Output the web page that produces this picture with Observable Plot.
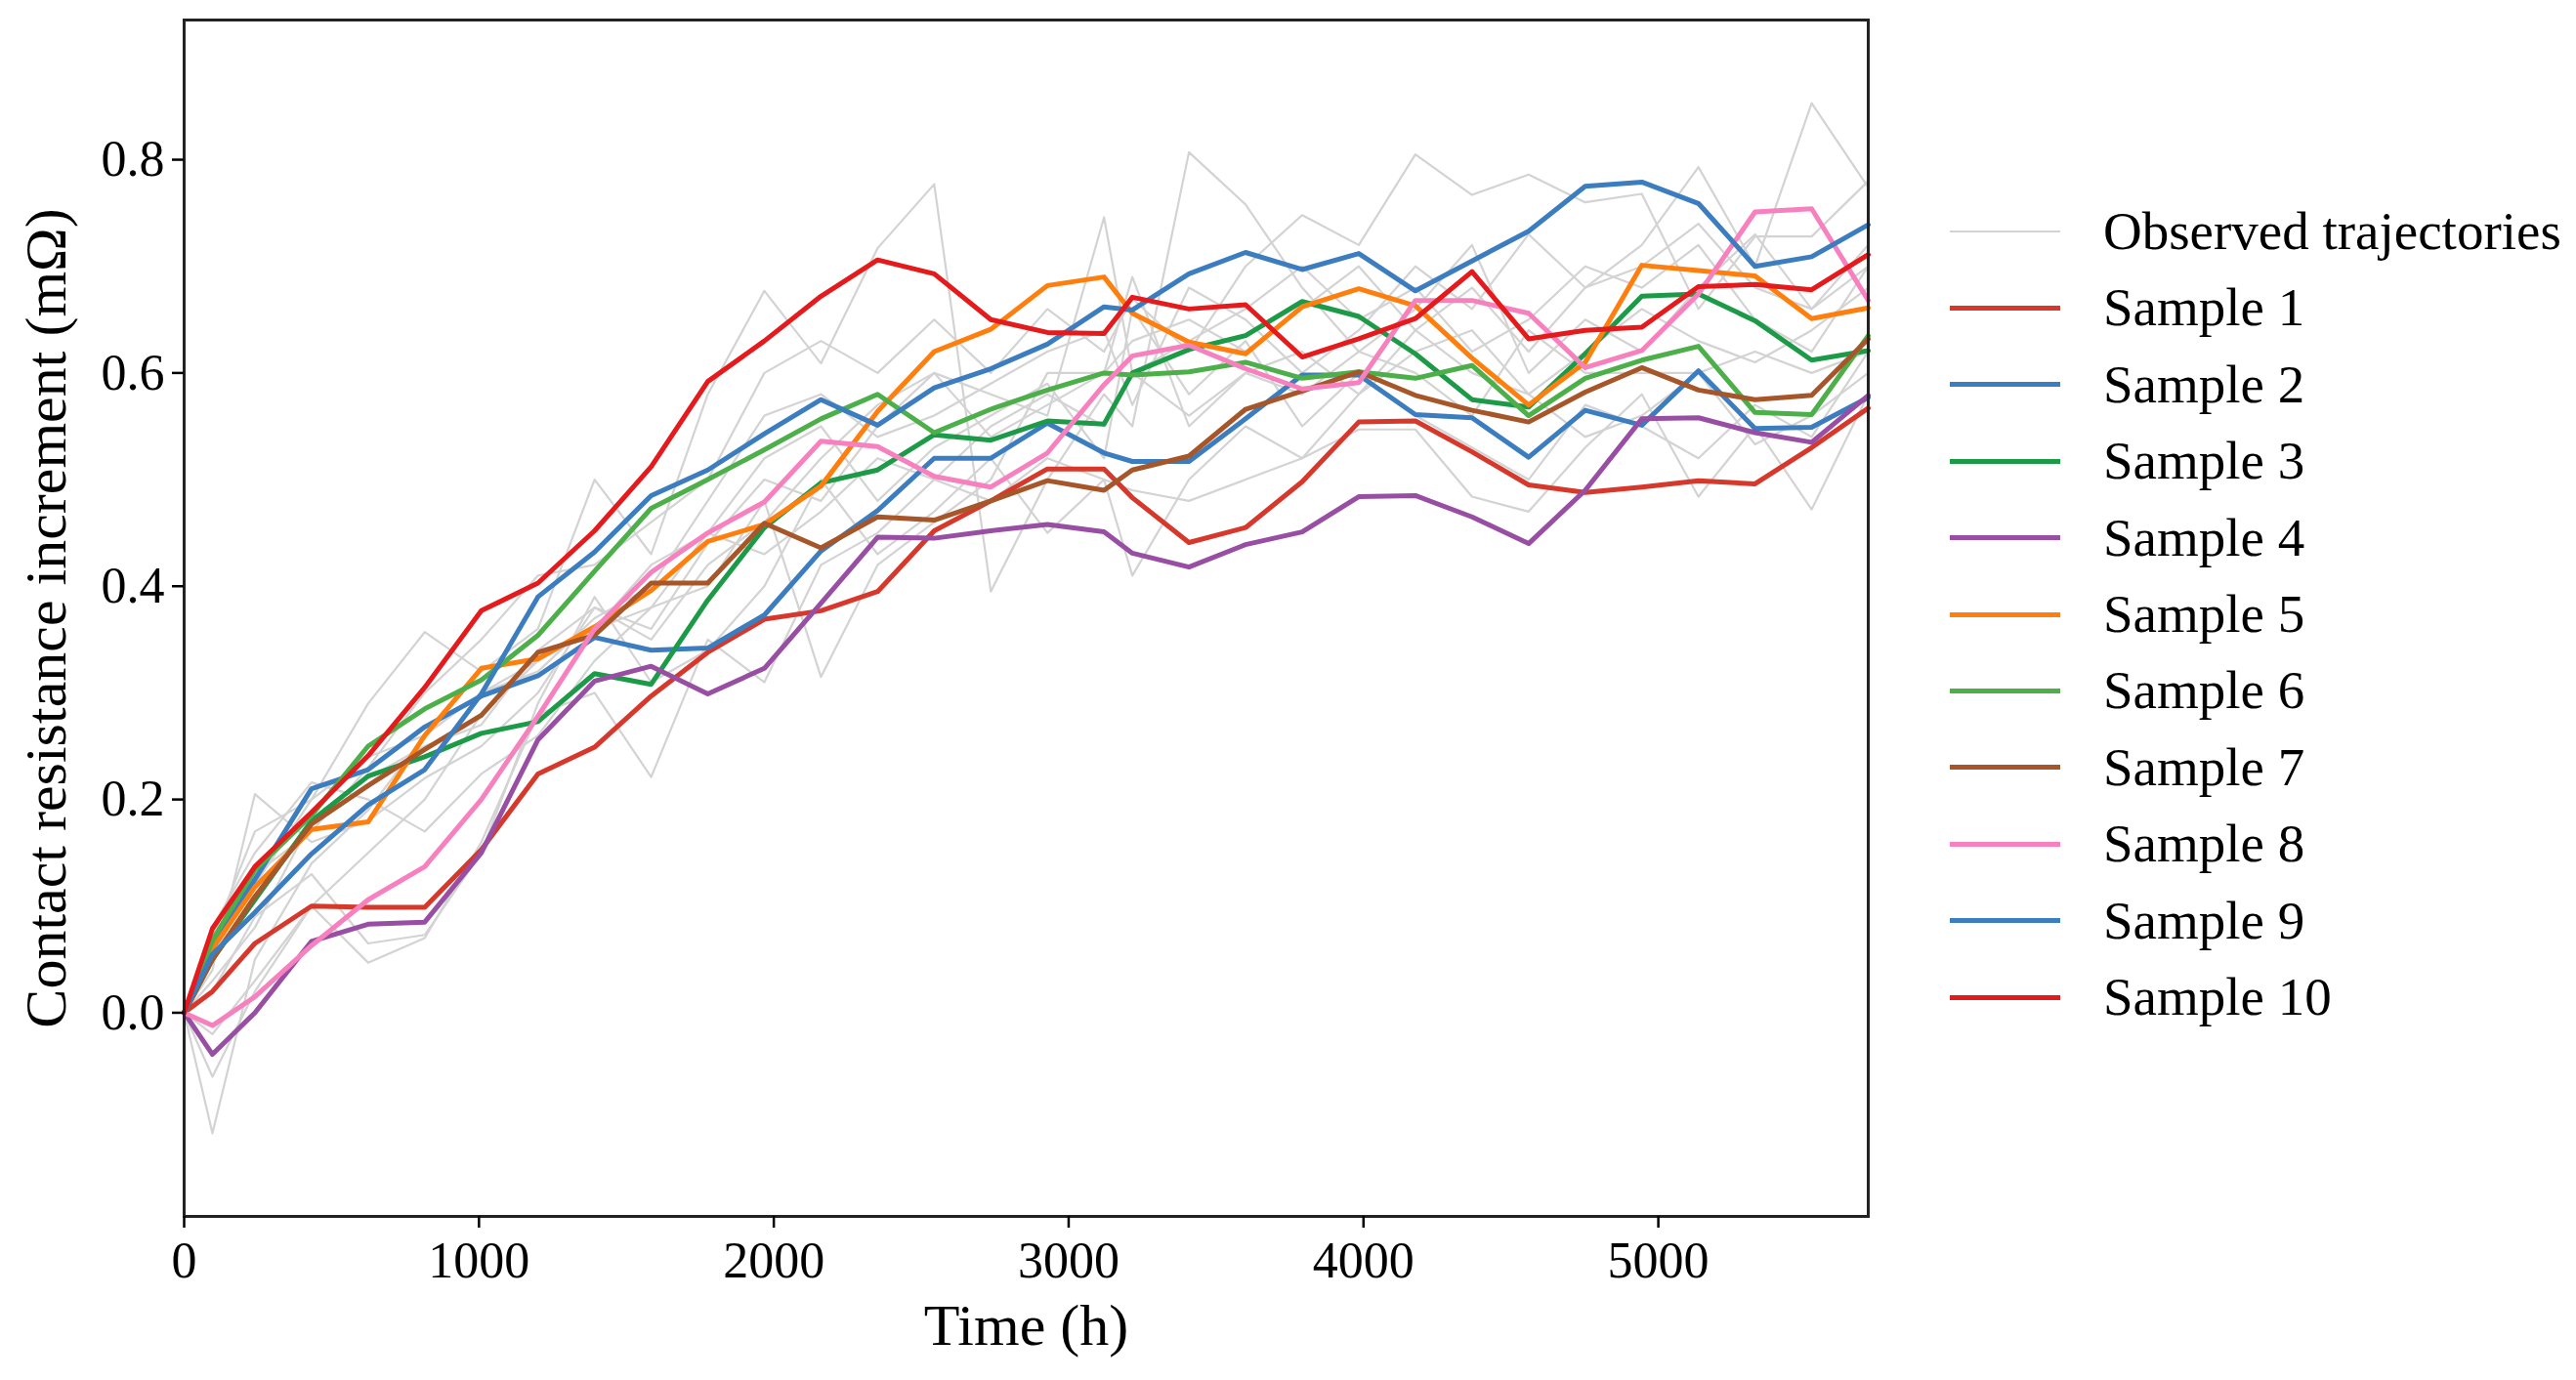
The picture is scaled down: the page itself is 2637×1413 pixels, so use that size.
<!DOCTYPE html>
<html><head><meta charset="utf-8">
<script src="https://cdn.jsdelivr.net/npm/d3@7"></script>
<script src="https://cdn.jsdelivr.net/npm/@observablehq/plot@0.6"></script>
<style>
html,body{margin:0;padding:0;background:#fff;}
#wrap{position:relative;width:2637px;height:1413px;font-family:"Liberation Serif","Times New Roman",serif;overflow:hidden;}
#chart{position:absolute;left:0;top:0;}
.row{position:absolute;left:1996px;display:flex;align-items:center;height:70px;}
.sw{width:113px;}
.lab{margin-left:44px;font-size:55px;color:#000;white-space:nowrap;line-height:70px;}
</style></head><body><div id="wrap"><div id="chart"></div><div id="legend"></div></div>
<script>
const times = [0,96,240,432,624,816,1008,1200,1392,1584,1776,1968,2160,2352,2544,2736,2928,3120,3216,3408,3600,3792,3984,4176,4368,4560,4752,4944,5136,5328,5520,5712];

const sample1 = [0,0.02,0.065,0.10,0.099,0.099,0.153,0.224,0.249,0.297,0.338,0.369,0.377,0.395,0.452,0.48,0.51,0.51,0.483,0.441,0.455,0.498,0.554,0.555,0.526,0.495,0.488,0.493,0.499,0.496,0.53,0.567];
const sample2 = [0,0.065,0.125,0.21,0.228,0.268,0.297,0.316,0.352,0.34,0.342,0.373,0.433,0.471,0.52,0.52,0.553,0.525,0.517,0.517,0.557,0.598,0.598,0.561,0.558,0.521,0.565,0.551,0.602,0.548,0.549,0.577];
const sample3 = [0,0.05,0.106,0.18,0.222,0.24,0.262,0.273,0.318,0.308,0.387,0.455,0.497,0.509,0.542,0.537,0.555,0.552,0.6,0.622,0.635,0.667,0.653,0.618,0.575,0.568,0.618,0.672,0.674,0.649,0.612,0.621];
const sample4 = [0,-0.039,0.0,0.067,0.083,0.085,0.15,0.256,0.311,0.325,0.299,0.323,0.384,0.446,0.445,0.452,0.458,0.451,0.431,0.418,0.439,0.451,0.484,0.485,0.465,0.44,0.49,0.557,0.558,0.544,0.535,0.579];
const sample5 = [0,0.06,0.118,0.172,0.179,0.26,0.323,0.332,0.362,0.396,0.442,0.458,0.494,0.564,0.62,0.641,0.682,0.69,0.656,0.629,0.618,0.662,0.679,0.663,0.614,0.57,0.61,0.701,0.696,0.691,0.651,0.661];
const sample6 = [0,0.068,0.134,0.185,0.25,0.285,0.312,0.354,0.414,0.473,0.5,0.528,0.557,0.58,0.544,0.566,0.584,0.6,0.598,0.601,0.61,0.595,0.601,0.595,0.607,0.56,0.595,0.612,0.625,0.563,0.561,0.635];
const sample7 = [0,0.05,0.109,0.177,0.213,0.247,0.279,0.338,0.354,0.403,0.403,0.459,0.436,0.465,0.462,0.48,0.499,0.49,0.509,0.522,0.566,0.583,0.601,0.579,0.565,0.554,0.582,0.605,0.584,0.575,0.579,0.632];
const sample8 = [0,-0.012,0.015,0.063,0.106,0.137,0.2,0.278,0.36,0.413,0.45,0.479,0.536,0.531,0.503,0.493,0.525,0.589,0.616,0.626,0.604,0.585,0.591,0.668,0.668,0.656,0.605,0.621,0.674,0.751,0.754,0.668];
const sample9 = [0,0.055,0.094,0.149,0.195,0.228,0.299,0.39,0.432,0.485,0.509,0.543,0.575,0.551,0.586,0.604,0.627,0.662,0.659,0.693,0.713,0.697,0.712,0.677,0.705,0.733,0.775,0.779,0.759,0.7,0.709,0.739];
const sample10 = [0,0.079,0.137,0.188,0.241,0.305,0.377,0.403,0.452,0.512,0.592,0.63,0.672,0.706,0.693,0.65,0.638,0.637,0.671,0.66,0.664,0.615,0.632,0.651,0.695,0.632,0.64,0.643,0.681,0.683,0.678,0.711];

const observed1 = [0,-0.113,0.05,0.14,0.19,0.26,0.3,0.33,0.36,0.42,0.45,0.43,0.47,0.52,0.5,0.55,0.58,0.55,0.6,0.56,0.6,0.62,0.58,0.64,0.6,0.58,0.62,0.66,0.63,0.61,0.64,0.68];
const observed2 = [0,0.04,0.205,0.16,0.18,0.22,0.25,0.3,0.38,0.36,0.44,0.5,0.48,0.55,0.6,0.58,0.56,0.746,0.6,0.63,0.66,0.7,0.65,0.68,0.62,0.65,0.7,0.68,0.72,0.65,0.62,0.7];
const observed3 = [0,0.06,0.12,0.2,0.29,0.357,0.32,0.36,0.5,0.43,0.58,0.677,0.609,0.717,0.777,0.395,0.5,0.58,0.55,0.807,0.758,0.68,0.62,0.66,0.72,0.6,0.65,0.62,0.68,0.73,0.66,0.7];
const observed4 = [0,-0.06,0.02,0.1,0.047,0.07,0.16,0.28,0.3,0.221,0.35,0.31,0.42,0.45,0.5,0.48,0.52,0.5,0.41,0.5,0.55,0.52,0.547,0.547,0.484,0.47,0.53,0.58,0.484,0.55,0.472,0.58];
const observed5 = [0,0.08,0.15,0.216,0.2,0.17,0.224,0.26,0.33,0.38,0.4,0.48,0.315,0.42,0.46,0.5,0.6,0.6,0.69,0.55,0.6,0.58,0.62,0.6,0.56,0.64,0.6,0.6,0.6,0.62,0.6,0.62];
const observed6 = [0,0.02,0.09,0.13,0.065,0.073,0.15,0.29,0.39,0.31,0.34,0.4,0.5,0.43,0.47,0.52,0.45,0.5,0.49,0.48,0.5,0.52,0.58,0.62,0.64,0.58,0.54,0.56,0.6,0.533,0.56,0.6];
const observed7 = [0,0.05,0.13,0.17,0.23,0.3,0.35,0.41,0.42,0.46,0.5,0.6,0.63,0.6,0.65,0.6,0.66,0.62,0.67,0.62,0.7,0.748,0.72,0.805,0.767,0.786,0.76,0.768,0.66,0.728,0.728,0.78];
const observed8 = [0,0.07,0.17,0.2,0.24,0.26,0.3,0.32,0.37,0.4,0.48,0.56,0.58,0.54,0.56,0.59,0.62,0.64,0.57,0.68,0.65,0.6,0.64,0.7,0.66,0.73,0.68,0.72,0.793,0.7,0.853,0.774];
const observed9 = [0,-0.02,0.03,0.1,0.15,0.2,0.28,0.33,0.36,0.38,0.45,0.52,0.55,0.48,0.53,0.56,0.59,0.52,0.66,0.58,0.63,0.55,0.6,0.56,0.53,0.5,0.57,0.55,0.52,0.57,0.54,0.62];
const observed10 = [0,0.03,0.08,0.18,0.22,0.25,0.27,0.34,0.38,0.35,0.42,0.46,0.52,0.57,0.6,0.54,0.57,0.6,0.63,0.65,0.62,0.66,0.7,0.64,0.68,0.62,0.68,0.7,0.74,0.68,0.66,0.72];

const sampleLabels = ["Sample 1","Sample 2","Sample 3","Sample 4","Sample 5","Sample 6","Sample 7","Sample 8","Sample 9","Sample 10"];
const sampleColors = ["#d6392b","#3b7dbf","#1d9a48","#984ea3","#ff7f0e","#4daf4a","#a65628","#f781bf","#3b7dbf","#e41a1c"];
const observedLabel = "Observed trajectories";
const observedColor = "#d3d3d3";
const xTicks = [0,1000,2000,3000,4000,5000];
const yTicks = [0,0.2,0.4,0.6,0.8];
const xTitle = "Time (h)";
const yTitle = "Contact resistance increment (mΩ)";

const samples = [sample1,sample2,sample3,sample4,sample5,sample6,sample7,sample8,sample9,sample10];
const observed = [observed1,observed2,observed3,observed4,observed5,observed6,observed7,observed8,observed9,observed10];

const obsRows = [];
observed.forEach((arr,k)=>arr.forEach((v,i)=>obsRows.push({s:"o"+k,t:times[i],v})));

const font = "Liberation Serif, Times New Roman, serif";
const marks = [
  Plot.line(obsRows,{x:"t",y:"v",z:"s",stroke:observedColor,strokeWidth:2.2})
];
samples.forEach((arr,k)=>{
  marks.push(Plot.line(arr.map((v,i)=>({t:times[i],v})),{x:"t",y:"v",stroke:sampleColors[k],strokeWidth:5}));
});
marks.push(Plot.frame({stroke:"#222",strokeWidth:3}));
marks.push(Plot.axisX({ticks:xTicks,tickSize:12,tickPadding:14,strokeWidth:2.5,tickFormat:d=>String(d),fontSize:52,label:null}));
marks.push(Plot.axisY({ticks:yTicks,tickSize:12,tickPadding:8,strokeWidth:2.5,tickFormat:d=>d.toFixed(1),fontSize:52,label:null}));
marks.push(Plot.text([xTitle],{frameAnchor:"bottom",lineAnchor:"middle",textAnchor:"middle",dy:112,fontSize:60,fill:"#000"}));
marks.push(Plot.text([yTitle],{frameAnchor:"left",rotate:-90,textAnchor:"middle",lineAnchor:"middle",dx:-141,fontSize:60,fill:"#000"}));

const chart = Plot.plot({
  width:1950,height:1413,
  marginLeft:188,marginRight:38,marginTop:20,marginBottom:168,
  x:{domain:[0,5712]},
  y:{domain:[-0.191,0.931]},
  style:{fontFamily:font,background:"#fff",color:"#000",overflow:"visible"},
  marks
});
document.getElementById("chart").appendChild(chart);

const legend = d3.select("#legend");
const items = [{label:observedLabel,color:observedColor,w:2.5}].concat(sampleLabels.map((l,k)=>({label:l,color:sampleColors[k],w:5})));
items.forEach((it,i)=>{
  const cy = 237 + 78.4*i;
  const row = legend.append("div").attr("class","row").style("top",(cy-35)+"px");
  row.append("div").attr("class","sw").style("height",it.w+"px").style("background",it.color);
  row.append("span").attr("class","lab").text(it.label);
});
</script></body></html>
